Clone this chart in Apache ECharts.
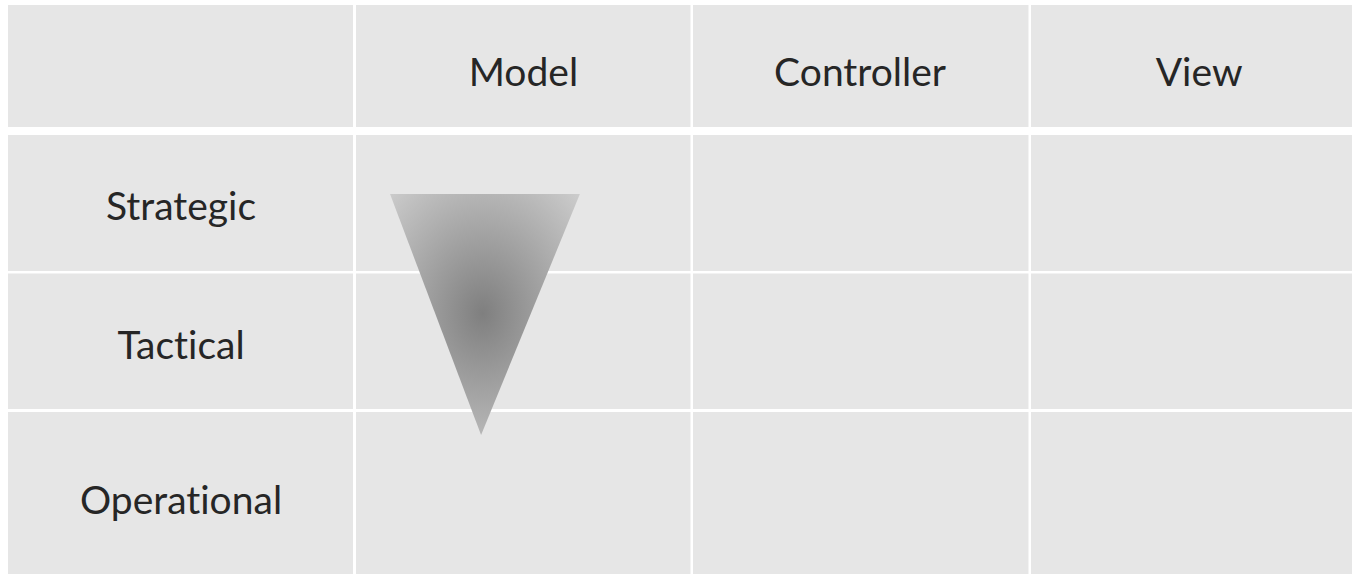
<!DOCTYPE html>
<html><head><meta charset="utf-8">
<script src="https://cdn.jsdelivr.net/npm/echarts@6/dist/echarts.min.js"></script>
<style>html,body{margin:0;padding:0;background:#fff}#c{width:1352px;height:574px}
#c text{font-variant-ligatures:none;font-feature-settings:"liga" 0,"clig" 0}</style>
</head><body><div id="c"></div><script>
// ---- data ----
const columns = ['', 'Model', 'Controller', 'View'];
const rows = ['', 'Strategic', 'Tactical', 'Operational'];
// inverted triangle (funnel) vertices in axis units: [x, y]
const funnelTopLeft = [1.137, 1.329];
const funnelTopRight = [1.702, 1.329];
const funnelApex = [1.408, 3.023];

// ---- layout (axis units) ----
const colSpans = [[0, 1.0268], [1.0357, 2.0312], [2.0387, 3.0372], [3.0446, 4.2]];
const rowSpans = [[0, 0.8576], [0.9139, 1.8699], [1.8875, 2.8401], [2.8612, 4.2]];
const colLabelX = [0.515, 1.534, 2.536, 3.545];
const rowLabelY = [0.464, 1.404, 2.385, 3.473];

const cellData = [];
for (let c = 0; c < columns.length; c++) for (let r = 0; r < rows.length; r++) cellData.push([c, r]);
const labelData = [];
columns.forEach((t, i) => { if (t) labelData.push([colLabelX[i], rowLabelY[0], t]); });
rows.forEach((t, j) => { if (t) labelData.push([colLabelX[0], rowLabelY[j], t]); });

const chart = echarts.init(document.getElementById('c'), null, {renderer: 'svg'});
chart.setOption({
  backgroundColor: '#ffffff',
  animation: false,
  grid: {left: 8, top: 5, right: 0, bottom: 0},
  xAxis: {type: 'value', min: 0, max: 4, show: false},
  yAxis: {type: 'value', min: 0, max: 4, inverse: true, show: false},
  series: [
    {
      type: 'custom', clip: false, silent: true,
      data: cellData,
      renderItem(params, api) {
        const c = api.value(0), r = api.value(1);
        const p0 = api.coord([colSpans[c][0], rowSpans[r][0]]);
        const p1 = api.coord([colSpans[c][1], rowSpans[r][1]]);
        return {type: 'rect', shape: {x: p0[0], y: p0[1], width: p1[0] - p0[0], height: p1[1] - p0[1]},
          style: {fill: '#e6e6e6'}};
      }
    },
    {
      type: 'custom', clip: false, silent: true,
      data: [[...funnelTopLeft, ...funnelTopRight, ...funnelApex]],
      renderItem(params, api) {
        const pts = [
          api.coord([api.value(0), api.value(1)]),
          api.coord([api.value(2), api.value(3)]),
          api.coord([api.value(4), api.value(5)])
        ];
        return {type: 'polygon', shape: {points: pts},
          style: {fill: new echarts.graphic.RadialGradient(0.488, 0.494, 0.816, [
            {offset: 0, color: '#7f7f7f'},
            {offset: 1, color: '#d8d8d8'}
          ])}};
      }
    },
    {
      type: 'custom', clip: false, silent: true,
      data: labelData,
      renderItem(params, api) {
        const p = api.coord([api.value(0), api.value(1)]);
        return {type: 'text', style: {x: p[0], y: p[1], text: labelData[params.dataIndex][2],
          align: 'center', verticalAlign: 'middle', fill: '#262626',
          fontSize: 39, fontFamily: 'Lato'}};
      }
    }
  ]
});
</script></body></html>
